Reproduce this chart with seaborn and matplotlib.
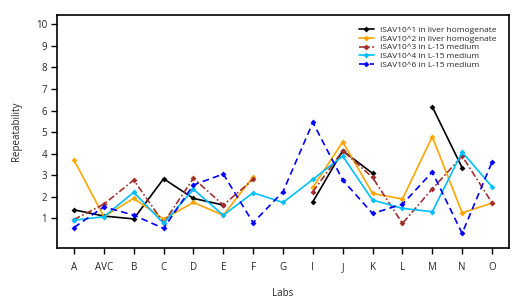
import numpy as np
import pandas as pd
import matplotlib
matplotlib.use("Agg")
import matplotlib.pyplot as plt
import seaborn as sns

labs = ["A", "AVC", "B", "C", "D", "E", "F", "G", "I", "J", "K", "L", "M", "N", "O"]
series_names = [
    "ISAV10^1 in liver homogenate",
    "ISAV10^2 in liver homogenate",
    "ISAV10^3 in L-15 medium",
    "ISAV10^4 in L-15 medium",
    "ISAV10^6 in L-15 medium",
]
s1 = [1.40, 1.11, 0.98, 2.84, 1.93, 1.62, None, None, 1.77, 4.14, 3.09, None, 6.18, 3.35, None]
s2 = [3.71, 1.08, 1.93, 0.97, 1.74, 1.15, 2.93, None, 2.44, 4.55, 2.16, 1.90, 4.79, 1.26, 1.71]
s3 = [0.95, 1.66, 2.78, 0.80, 2.86, 1.62, 2.81, None, 2.24, 4.14, 2.90, 0.77, 2.37, 3.89, 1.73]
s4 = [0.92, 1.08, 2.21, 0.77, 2.35, 1.15, 2.19, 1.74, 2.81, 3.89, 1.85, 1.47, 1.31, 4.08, 2.47]
s5 = [0.58, 1.54, 1.15, 0.54, 2.55, 3.06, 0.80, 2.24, 5.45, 2.78, 1.23, 1.66, 3.15, 0.31, 3.61]
colors = ["#000000", "#FFA500", "#A03030", "#00BFFF", "#0000FF"]

rows = []
seg_id = 0
for name, vals in zip(series_names, [s1, s2, s3, s4, s5]):
    prev_nan = True
    for i, v in enumerate(vals):
        if v is None:
            prev_nan = True
            continue
        if prev_nan:
            seg_id += 1
            prev_nan = False
        rows.append({"x": i, "val": v, "series": name, "seg": seg_id})
df = pd.DataFrame(rows)

sns.set_style("ticks")
plt.rcParams["font.family"] = ["Open Sans", "DejaVu Sans"]

fig = plt.figure(figsize=(5.2, 3.06), dpi=100)
ax = fig.add_axes([57/520, 1-248/306, (509-57)/520, (248-15)/306])

palette = dict(zip(series_names, colors))
dashes = dict(zip(series_names, ["", "", (4, 1.5, 1, 1.5), "", (4, 2.5)]))
markers = dict(zip(series_names, ["D"] * 5))

sns.lineplot(data=df, x="x", y="val", hue="series", style="series", units="seg",
             estimator=None, palette=palette, dashes=dashes, markers=markers,
             markersize=3, markeredgewidth=0, linewidth=1.2, sort=False,
             hue_order=series_names, style_order=series_names, ax=ax)

ax.set_xlim(-0.57, 14.57)
ax.set_ylim(-0.37, 10.43)
ax.set_xticks(range(len(labs)))
ax.set_xticklabels(labs, fontsize=7)
ax.set_yticks(range(1, 11))
ax.set_yticklabels([str(i) for i in range(1, 11)], fontsize=7)
ax.tick_params(axis="both", length=4, width=1, color="black")
ax.tick_params(axis="y", pad=3)
ax.tick_params(axis="x", pad=6)
ax.set_xlabel("Labs", fontsize=7, labelpad=11)
ax.set_ylabel("Repeatability", fontsize=7, labelpad=10)
for sp in ax.spines.values():
    sp.set_linewidth(1.2)
    sp.set_color("black")

leg = ax.legend(loc="upper right", bbox_to_anchor=(0.99, 0.985), frameon=False,
                fontsize=6, handlelength=1.8, handletextpad=0.8, labelspacing=0.12)

fig.savefig("out.png", dpi=100)
